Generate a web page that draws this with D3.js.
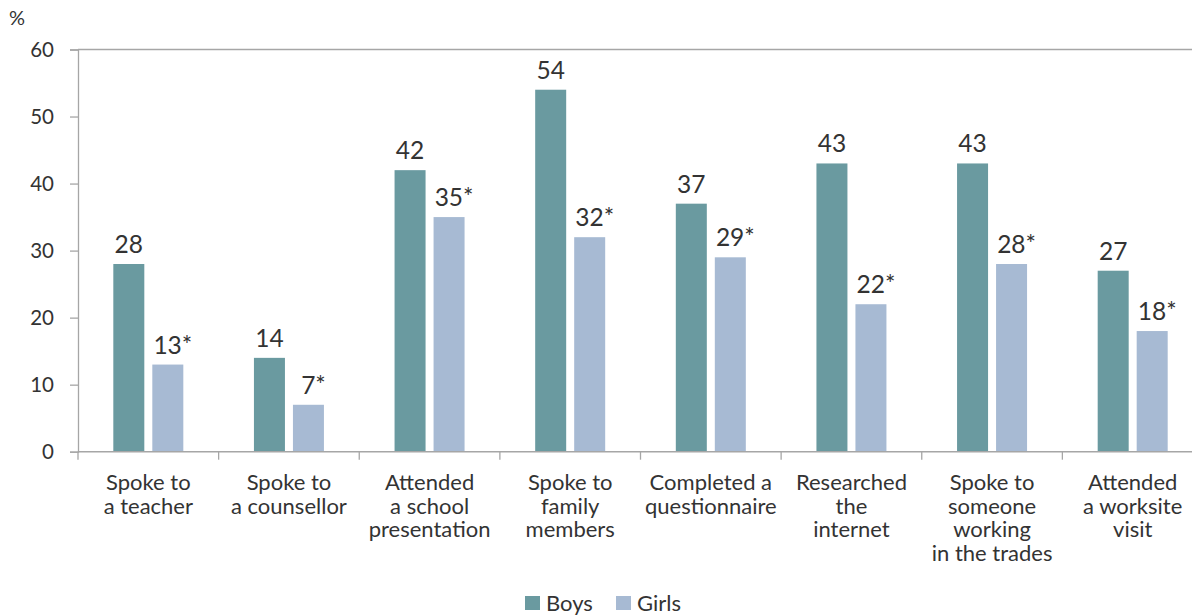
<!DOCTYPE html>
<html>
<head>
<meta charset="utf-8">
<script src="https://cdn.jsdelivr.net/npm/d3@7"></script>
<style>
  html, body { margin: 0; padding: 0; background: #fff; }
  svg { display: block; }
  text { font-family: Lato, "Open Sans", sans-serif; fill: #333; }
</style>
</head>
<body>
<svg id="chart" width="1192" height="616"></svg>
<script>
// Career exploration activities by gender (%)
const categories = [
  ["Spoke to", "a teacher"],
  ["Spoke to", "a counsellor"],
  ["Attended", "a school", "presentation"],
  ["Spoke to", "family", "members"],
  ["Completed a", "questionnaire"],
  ["Researched", "the", "internet"],
  ["Spoke to", "someone", "working", "in the trades"],
  ["Attended", "a worksite", "visit"]
];
const boys  = [28, 14, 42, 54, 37, 43, 43, 27];
const girls = [13, 7, 35, 32, 29, 22, 28, 18];
const boysLabels  = ["28", "14", "42", "54", "37", "43", "43", "27"];
const girlsLabels = ["13*", "7*", "35*", "32*", "29*", "22*", "28*", "18*"];
const yTicks = [0, 10, 20, 30, 40, 50, 60];
const seriesNames = ["Boys", "Girls"];
const colors = ["#6a9aa0", "#a7bad3"];

const svg = d3.select("#chart");
const plotLeft = 78, plotTop = 49.5, plotBottom = 451.7, plotRight = 1203;

const x = d3.scaleBand().domain(d3.range(categories.length)).range([plotLeft, plotRight]).padding(0);
const y = d3.scaleLinear().domain([0, 60]).range([plotBottom, plotTop]);

const barW = 31, gap = 8;
const groupW = barW * 2 + gap;

// top frame line at 60
svg.append("line")
  .attr("x1", plotLeft).attr("x2", plotRight)
  .attr("y1", y(60)).attr("y2", y(60))
  .attr("stroke", "#a6a6a6").attr("stroke-width", 1.3);

// y axis
const yAxis = d3.axisLeft(y).tickValues(yTicks).tickSize(8).tickPadding(16);
const gy = svg.append("g").attr("transform", `translate(${plotLeft},0)`).call(yAxis);
gy.select(".domain").attr("stroke", "#a6a6a6").attr("stroke-width", 1.3);
gy.selectAll(".tick line").attr("stroke", "#a6a6a6").attr("stroke-width", 1.3);
gy.selectAll(".tick text").attr("font-size", 20.5).attr("fill", "#222")
  .style("font-family", "Lato, sans-serif").attr("dy", "0.35em");

svg.append("text").attr("x", 9).attr("y", 25).attr("font-size", 20).attr("fill", "#222").text("%");

// bars
const groups = svg.append("g").selectAll("g").data(categories).join("g")
  .attr("transform", (d, i) => `translate(${x(i) + (x.bandwidth() - groupW) / 2},0)`);

[boys, girls].forEach((vals, s) => {
  groups.append("rect")
    .attr("x", s * (barW + gap))
    .attr("width", barW)
    .attr("y", (d, i) => y(vals[i]))
    .attr("height", (d, i) => y(0) - y(vals[i]))
    .attr("fill", colors[s]);
  const labs = s === 0 ? boysLabels : girlsLabels;
  groups.append("text")
    .attr("x", s * (barW + gap) + barW / 2 + (s === 1 ? 5 : 0))
    .attr("y", (d, i) => y(vals[i]) - 11)
    .attr("text-anchor", "middle")
    .attr("font-size", 24.5)
    .attr("fill", "#3a3a3a")
    .text((d, i) => labs[i]);
});

// x axis
const gx = svg.append("g").attr("transform", `translate(0,${plotBottom})`);
gx.append("line").attr("x1", plotLeft).attr("x2", plotRight).attr("y1", 0).attr("y2", 0)
  .attr("stroke", "#a6a6a6").attr("stroke-width", 1.5);
gx.selectAll("line.tk").data(d3.range(categories.length + 1)).join("line")
  .attr("class", "tk")
  .attr("x1", i => plotLeft + i * x.step()).attr("x2", i => plotLeft + i * x.step())
  .attr("y1", 0).attr("y2", 8)
  .attr("stroke", "#a6a6a6").attr("stroke-width", 1.3);

const catText = gx.selectAll("text.cat").data(categories).join("text")
  .attr("class", "cat")
  .attr("text-anchor", "middle")
  .attr("font-size", 22)
  .attr("fill", "#222")
  .attr("transform", (d, i) => `translate(${x(i) + x.bandwidth() / 2},38.5)`);
catText.selectAll("tspan").data(d => d).join("tspan")
  .attr("x", 0).attr("dy", (d, j) => j === 0 ? 0 : 23.5).text(d => d);

// legend
const legend = svg.append("g").attr("transform", "translate(525,596)");
const lx = [0, 91];
seriesNames.forEach((name, s) => {
  legend.append("rect").attr("x", lx[s]).attr("y", 0).attr("width", 15).attr("height", 14).attr("fill", colors[s]);
  legend.append("text").attr("x", lx[s] + 21).attr("y", 14.5).attr("font-size", 22).attr("fill", "#222").text(name);
});
</script>
</body>
</html>
